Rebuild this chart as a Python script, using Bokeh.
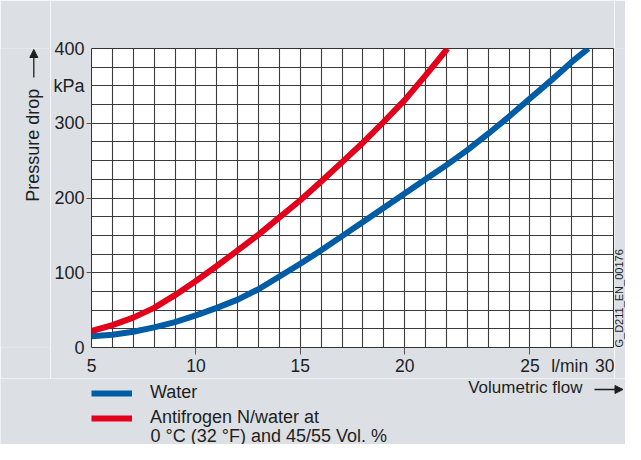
import math
from bokeh.plotting import figure
from bokeh.layouts import column, row
from bokeh.models import (Range1d, FixedTicker, Label, Legend, LegendItem, LinearAxis,
                          Arrow, NormalHead, ColumnDataSource)
from bokeh.embed import file_html
from bokeh.resources import INLINE

# ---- data ----
water_flow = [5, 6, 7, 8, 9, 10, 11, 12, 13, 14, 15, 16, 17, 18, 19, 20,
              21, 22, 23, 24, 25, 26, 27, 28, 28.8]
water_dp = [15, 17, 21, 27, 34, 43, 53, 64, 78, 95, 112, 130, 149, 168, 187,
            206, 225, 244, 264, 286, 309, 333, 357, 382, 400]

anti_flow = [5, 6, 7, 8, 9, 10, 11, 12, 13, 14, 15, 16, 17, 18, 19, 20, 21, 22.05]
anti_dp = [22, 30, 40, 53, 70, 89, 109, 130, 151, 174, 197, 222, 248, 274,
           302, 331, 364, 400]

x_tick_marks = [10, 15, 20, 26]
x_label_ticks = [5, 10, 15, 20, 26, 27.9, 30]
x_label_overrides = {26: "25", 27.9: "l/min"}
y_tick_marks = [100, 200, 300]
y_label_ticks = [0, 100, 200, 300, 350, 400]
y_label_overrides = {350: "kPa"}
x_grid = list(range(5, 31))
y_grid = list(range(0, 401, 25))

series_names = ["Water", "Antifrogen N/water at", "0 °C (32 °F) and 45/55 Vol. %"]
x_title = "Volumetric flow"
y_title = "Pressure drop"
code_text = "G_D211_EN_00176"

BLUE = "#005ca4"
RED = "#e2001a"
TXT = "#1e1e1e"
GRAY = "#dce0e5"
FONT = "Liberation Sans"


def aux_fig(w, h, xr, yr):
    f = figure(width=w, height=h, x_range=Range1d(*xr), y_range=Range1d(*yr),
               output_backend="svg", toolbar_location=None, title=None,
               x_axis_type=None, y_axis_type=None, min_border=0)
    f.outline_line_color = None
    f.background_fill_color = GRAY
    f.border_fill_color = GRAY
    return f


def lab(f, x, y, text, size="18px", align="left", baseline="middle", angle=0):
    f.add_layout(Label(x=x, y=y, text=text, text_font=FONT, text_font_size=size,
                       text_color=TXT, text_align=align, text_baseline=baseline,
                       angle=angle))


# ---------------- main chart ----------------
p = figure(width=564, height=378, x_range=Range1d(5, 30), y_range=Range1d(0, 400),
           output_backend="svg", toolbar_location=None, title=None,
           min_border_left=41, min_border_right=1, min_border_top=48,
           min_border_bottom=30)
p.border_fill_color = GRAY
p.background_fill_color = "white"
p.outline_line_color = "#333333"
p.outline_line_width = 1

p.xgrid.ticker = FixedTicker(ticks=x_grid)
p.ygrid.ticker = FixedTicker(ticks=y_grid)
for g in (p.xgrid, p.ygrid):
    g.grid_line_color = "#3c3c3c"
    g.grid_line_width = 1.1

p.line(water_flow, water_dp, line_width=6, line_color=BLUE)
p.line(anti_flow, anti_dp, line_width=6, line_color=RED)

# axis with tick marks only (next to the frame)
ax = p.xaxis[0]
ax.ticker = FixedTicker(ticks=x_tick_marks)
ax.axis_line_color = None
ax.major_tick_in = 0
ax.major_tick_out = 7
ax.major_tick_line_color = "#555555"
ax.minor_tick_line_color = None
ax.major_label_text_font_size = "1px"
ax.major_label_text_alpha = 0
ax.major_label_standoff = 0

# axis with the labels
xb = LinearAxis(ticker=FixedTicker(ticks=x_label_ticks),
                major_label_overrides=x_label_overrides)
xb.axis_line_color = None
xb.major_tick_in = 0
xb.major_tick_out = 0
xb.major_tick_line_color = None
xb.minor_tick_line_color = None
xb.major_label_text_font = FONT
xb.major_label_text_font_size = "17.5px"
xb.major_label_text_color = TXT
xb.major_label_standoff = 1
p.add_layout(xb, "below")

ay = p.yaxis[0]
ay.ticker = FixedTicker(ticks=y_tick_marks)
ay.axis_line_color = None
ay.major_tick_in = 0
ay.major_tick_out = 5
ay.major_tick_line_color = "#555555"
ay.minor_tick_line_color = None
ay.major_label_text_font_size = "1px"
ay.major_label_text_alpha = 0
ay.major_label_standoff = 0

yb = LinearAxis(ticker=FixedTicker(ticks=y_label_ticks),
                major_label_overrides=y_label_overrides)
yb.axis_line_color = None
yb.major_tick_in = 0
yb.major_tick_out = 0
yb.major_tick_line_color = None
yb.minor_tick_line_color = None
yb.major_label_text_font = FONT
yb.major_label_text_font_size = "18px"
yb.major_label_text_color = TXT
yb.major_label_standoff = 2
p.add_layout(yb, "left")

# Side strips share the main frame's vertical extent (page y 48..348),
# so their y ranges are given in page pixels of that extent.
# ---------------- left strip: y title with arrow ----------------
left = aux_fig(50, 378, (0, 50), (348, 48))
lab(left, 32.5, 145, y_title, align="center", angle=math.pi / 2)
left.add_layout(Arrow(end=NormalHead(size=8, fill_color=TXT, line_color=TXT),
                      x_start=33.3, y_start=77, x_end=33.3, y_end=49,
                      line_width=1.3, line_color=TXT))

# ---------------- right strip: drawing code ----------------
right = aux_fig(11, 378, (614, 625), (348, 48))
lab(right, 618.5, 348, code_text, size="11px", angle=math.pi / 2)

# ---------------- bottom strip: x title and legend ----------------
bottom = aux_fig(625, 66, (0, 625), (444, 378))
lab(bottom, 582, 387, x_title, size="17px", align="right")
bottom.add_layout(Arrow(end=NormalHead(size=8, fill_color=TXT, line_color=TXT),
                        x_start=594, y_start=389, x_end=622.5, y_end=389,
                        line_width=1.3, line_color=TXT))

# legend keys (no data of their own; they only carry the line styles)
proxy = ColumnDataSource(data=dict(x=[float("nan")], y=[float("nan")]))
k_water = bottom.line("x", "y", source=proxy, line_width=6, line_color=BLUE)
k_anti = bottom.line("x", "y", source=proxy, line_width=6, line_color=RED)
legend = Legend(items=[LegendItem(label=series_names[0], renderers=[k_water]),
                       LegendItem(label=series_names[1], renderers=[k_anti])],
                location=(91, 16), orientation="vertical",
                padding=0, margin=0, spacing=4, glyph_width=41, glyph_height=20,
                label_standoff=18, label_height=20,
                label_text_font=FONT, label_text_font_size="18px",
                label_text_color=TXT, background_fill_alpha=0,
                border_line_color=None)
bottom.add_layout(legend)
lab(bottom, 150, 435, series_names[2])

layout = column(row(left, p, right), bottom)
open("out.html", "w").write(file_html(layout, INLINE))
